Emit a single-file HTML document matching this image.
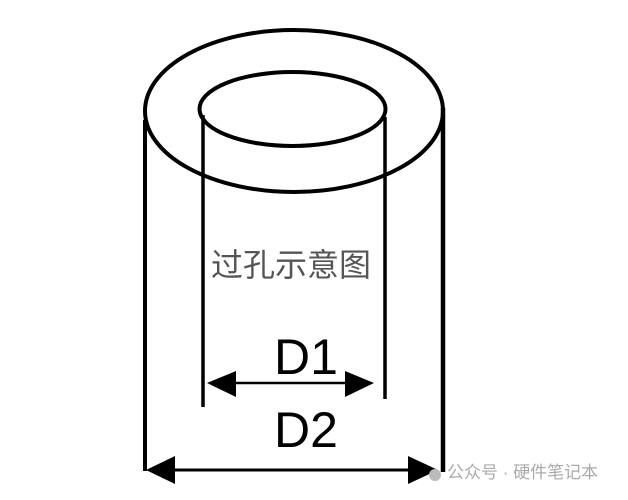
<!DOCTYPE html>
<html><head><meta charset="utf-8"><style>
html,body{margin:0;padding:0;background:#fff;}
svg{display:block}
</style></head><body>
<svg width="628" height="500" viewBox="0 0 628 500" xmlns="http://www.w3.org/2000/svg">
<g fill="none" stroke="#000">
<ellipse cx="294" cy="111" rx="149" ry="81" stroke-width="4"/>
<ellipse cx="292.5" cy="109" rx="93" ry="37" stroke-width="4"/>
<line x1="145" y1="120" x2="145" y2="471" stroke-width="4"/>
<line x1="203" y1="115" x2="203" y2="407" stroke-width="3.5"/>
<line x1="385" y1="117" x2="385" y2="399" stroke-width="3.5"/>
<line x1="443" y1="108" x2="443" y2="472" stroke-width="4.5"/>
<line x1="225" y1="383" x2="355" y2="383" stroke-width="2.5"/>
<line x1="165" y1="470" x2="420" y2="470" stroke-width="3"/>
</g>
<polygon points="207,383 236,371 236,397" fill="#000"/>
<polygon points="374,383 345,371 345,397" fill="#000"/>
<polygon points="146,470 175,456 175,484" fill="#000"/>
<polygon points="438,470 408,456 408,484" fill="#000"/>
<text x="291" y="276" text-anchor="middle" font-family="Liberation Sans, Noto Sans CJK SC, sans-serif" font-size="32" fill="#555">过孔示意图</text>
<text x="306" y="374" text-anchor="middle" font-family="Liberation Sans, sans-serif" font-size="50" fill="#000">D1</text>
<text x="306" y="447" text-anchor="middle" font-family="Liberation Sans, sans-serif" font-size="50" fill="#000">D2</text>
<circle cx="435" cy="475" r="6" fill="#bbb"/>
<text x="447" y="478" font-family="Liberation Sans, Noto Sans CJK SC, sans-serif" font-size="17" fill="#aaa">公众号 · 硬件笔记本</text>
</svg>
</body></html>
